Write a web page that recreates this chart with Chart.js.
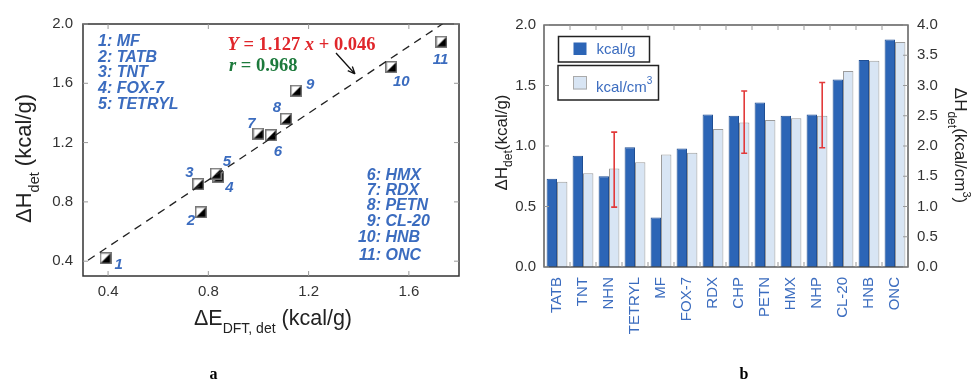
<!DOCTYPE html>
<html>
<head>
<meta charset="utf-8">
<script src="https://cdn.jsdelivr.net/npm/chart.js@4.4.0/dist/chart.umd.min.js"></script>
<style>
  html, body { margin: 0; padding: 0; background: #fff; }
  #wrap { position: relative; width: 972px; height: 381px; overflow: hidden; }
  .panel { position: absolute; top: 0; }
  #boxA { left: 0; }
  #boxB { left: 486px; }
</style>
</head>
<body>
<div id="wrap">
  <div class="panel" id="boxA"><canvas id="chartA" width="480" height="381"></canvas></div>
  <div class="panel" id="boxB"><canvas id="chartB" width="486" height="381"></canvas></div>
</div>
<script>
// ---- panel a : dH(det) vs dE(DFT) ----
const compoundNames = ['MF', 'TATB', 'TNT', 'FOX-7', 'TETRYL', 'HMX', 'RDX', 'PETN', 'CL-20', 'HNB', 'ONC'];
const deltaEdft = [0.39, 0.77, 0.76, 0.84, 0.83, 1.05, 1.00, 1.11, 1.15, 1.53, 1.73];
const deltaHdet = [0.42, 0.73, 0.92, 0.97, 0.99, 1.25, 1.26, 1.36, 1.55, 1.71, 1.88];
const fitSlope = 1.127;
const fitIntercept = 0.046;
const fitR = 0.968;
const fitRange = [0.32, 1.735];
const xTicksA = [0.4, 0.8, 1.2, 1.6];
const yTicksA = [0.4, 0.8, 1.2, 1.6, 2.0];

// ---- panel b : bars per compound ----
const categories = ['TATB', 'TNT', 'NHN', 'TETRYL', 'MF', 'FOX-7', 'RDX', 'CHP', 'PETN', 'HMX', 'NHP', 'CL-20', 'HNB', 'ONC'];
const kcalPerG = [0.73, 0.92, 0.75, 0.99, 0.41, 0.98, 1.26, 1.25, 1.36, 1.25, 1.26, 1.55, 1.71, 1.88];
const kcalPerCm3 = [1.41, 1.55, 1.63, 1.73, 1.86, 1.89, 2.28, 2.39, 2.43, 2.46, 2.50, 3.24, 3.41, 3.72];
const errLow = [null, null, 0.99, null, null, null, null, 1.88, null, null, 1.97, null, null, null];
const errHigh = [null, null, 2.23, null, null, null, null, 2.91, null, null, 3.05, null, null, null];
const yTicksLeftB = [0, 0.5, 1.0, 1.5, 2.0];
const yTicksRightB = [0, 0.5, 1.0, 1.5, 2.0, 2.5, 3.0, 3.5, 4.0];

// layout / style
const SANS = '"Liberation Sans", Arial, sans-serif';
const SERIF = '"Liberation Serif", "Times New Roman", serif';
const BLUE_TXT = '#3b6cbf';
const labelOffsets = [[13, 7], [-10, 9], [-9, -11], [11, 11], [11, -12], [7, 17], [-7, -10], [-9, -11], [14, -6], [10, 15], [-1, 18]];

// texte avec indices / exposants
function drawRich(ctx, parts, x, y, align) {
    let total = 0;
    parts.forEach(p => { ctx.font = p.font; p.w = ctx.measureText(p.t).width; total += p.w; });
    let cx = align === 'center' ? x - total / 2 : x;
    ctx.textAlign = 'left';
    ctx.textBaseline = 'alphabetic';
    parts.forEach(p => {
        ctx.font = p.font;
        if (p.color) ctx.fillStyle = p.color;
        ctx.fillText(p.t, cx, y + (p.dy || 0));
        cx += p.w;
    });
}

function makeMarker() {
    const c = document.createElement('canvas');
    c.width = 12; c.height = 12;
    const g = c.getContext('2d');
    g.fillStyle = '#fff';
    g.fillRect(0, 0, 12, 12);
    g.fillStyle = '#000';
    g.beginPath();
    g.moveTo(11, 1); g.lineTo(11, 11); g.lineTo(1, 11); g.closePath();
    g.fill();
    g.strokeStyle = '#777';
    g.lineWidth = 1.5;
    g.strokeRect(0.75, 0.75, 10.5, 10.5);
    return c;
}

const overlayA = {
    id: 'overlayA',
    afterDatasetsDraw(chart) {
        const { ctx, chartArea: ca, scales: { x, y } } = chart;
        ctx.save();
        // cadre + graduations internes
        ctx.strokeStyle = '#333';
        ctx.lineWidth = 1.5;
        ctx.strokeRect(ca.left, ca.top, ca.right - ca.left, ca.bottom - ca.top);
        ctx.strokeStyle = '#999';
        ctx.lineWidth = 1;
        ctx.beginPath();
        xTicksA.forEach(v => {
            const px = x.getPixelForValue(v);
            ctx.moveTo(px, ca.bottom); ctx.lineTo(px, ca.bottom - 5);
            ctx.moveTo(px, ca.top); ctx.lineTo(px, ca.top + 5);
        });
        yTicksA.forEach(v => {
            const py = y.getPixelForValue(v);
            ctx.moveTo(ca.left, py); ctx.lineTo(ca.left + 5, py);
            ctx.moveTo(ca.right, py); ctx.lineTo(ca.right - 5, py);
        });
        ctx.stroke();

        // numéros des points
        ctx.fillStyle = BLUE_TXT;
        ctx.font = 'italic bold 15px ' + SANS;
        ctx.textAlign = 'center';
        ctx.textBaseline = 'middle';
        chart.getDatasetMeta(1).data.forEach((pt, i) => {
            ctx.fillText(String(i + 1), pt.x + labelOffsets[i][0], pt.y + labelOffsets[i][1]);
        });

        // listes des composés
        ctx.font = 'italic bold 16px ' + SANS;
        ctx.textBaseline = 'alphabetic';
        ctx.textAlign = 'left';
        const leftBase = [46, 61.5, 77, 92.5, 108.5];
        for (let i = 0; i < 5; i++) {
            ctx.fillText((i + 1) + ': ' + compoundNames[i], 98, leftBase[i]);
        }
        const rightBase = [179.5, 194.5, 210, 226, 241.5, 260];
        for (let i = 5; i < 11; i++) {
            ctx.textAlign = 'right';
            ctx.fillText((i + 1) + ':', 381, rightBase[i - 5]);
            ctx.textAlign = 'left';
            ctx.fillText(' ' + compoundNames[i], 381, rightBase[i - 5]);
        }

        // équation
        const bi = 'italic bold 18.5px ' + SERIF;
        const b = 'bold 18.5px ' + SERIF;
        drawRich(ctx, [
            { t: 'Y', font: bi, color: '#e0262b' },
            { t: ' = ' + fitSlope.toFixed(3) + ' ', font: b },
            { t: 'x', font: bi },
            { t: ' + ' + fitIntercept.toFixed(3), font: b }
        ], 227.5, 49.5, 'left');
        drawRich(ctx, [
            { t: 'r', font: bi, color: '#1d7a3c' },
            { t: ' = ' + fitR.toFixed(3), font: b }
        ], 229, 70.5, 'left');

        // flèche
        const ax0 = 336, ay0 = 53, ax1 = 355, ay1 = 74;
        const ang = Math.atan2(ay1 - ay0, ax1 - ax0);
        ctx.strokeStyle = '#111';
        ctx.lineWidth = 1.3;
        ctx.beginPath();
        ctx.moveTo(ax0, ay0); ctx.lineTo(ax1, ay1);
        ctx.moveTo(ax1, ay1); ctx.lineTo(ax1 - 8 * Math.cos(ang - 0.4), ay1 - 8 * Math.sin(ang - 0.4));
        ctx.moveTo(ax1, ay1); ctx.lineTo(ax1 - 8 * Math.cos(ang + 0.4), ay1 - 8 * Math.sin(ang + 0.4));
        ctx.stroke();

        // titres des axes
        ctx.fillStyle = '#222';
        drawRich(ctx, [
            { t: '\u0394E', font: '21.5px ' + SANS },
            { t: 'DFT, det', font: '14px ' + SANS, dy: 8 },
            { t: ' (kcal/g)', font: '21.5px ' + SANS }
        ], 273, 325, 'center');
        ctx.save();
        ctx.translate(31, 158.5);
        ctx.rotate(-Math.PI / 2);
        drawRich(ctx, [
            { t: '\u0394H', font: '22px ' + SANS },
            { t: 'det', font: '14.5px ' + SANS, dy: 8 },
            { t: ' (kcal/g)', font: '22px ' + SANS }
        ], 0, 0, 'center');
        ctx.restore();

        ctx.fillStyle = '#000';
        ctx.font = 'bold 16px ' + SERIF;
        ctx.textAlign = 'center';
        ctx.fillText('a', 213.5, 379);
        ctx.restore();
    }
};

const overlayB = {
    id: 'overlayB',
    afterDatasetsDraw(chart) {
        const { ctx, chartArea: ca, scales: { x, y, y2 } } = chart;
        ctx.save();
        ctx.strokeStyle = '#444';
        ctx.lineWidth = 1.3;
        ctx.strokeRect(ca.left, ca.top, ca.right - ca.left, ca.bottom - ca.top);

        ctx.strokeStyle = '#999';
        ctx.lineWidth = 1;
        ctx.beginPath();
        yTicksLeftB.forEach(v => {
            const py = y.getPixelForValue(v);
            ctx.moveTo(ca.left, py); ctx.lineTo(ca.left + 5, py);
        });
        yTicksRightB.forEach(v => {
            const py = y2.getPixelForValue(v);
            ctx.moveTo(ca.right, py); ctx.lineTo(ca.right - 5, py);
        });
        for (let k = 1; k < categories.length; k++) {
            const px = (x.getPixelForValue(k - 1) + x.getPixelForValue(k)) / 2;
            ctx.moveTo(px, ca.top); ctx.lineTo(px, ca.top + 5);
            ctx.moveTo(px, ca.bottom); ctx.lineTo(px, ca.bottom - 5);
        }
        ctx.stroke();

        // barres d'erreur
        const meta = chart.getDatasetMeta(1);
        ctx.strokeStyle = '#e23a3a';
        ctx.lineWidth = 1.6;
        ctx.beginPath();
        errLow.forEach((lo, i) => {
            if (lo === null) return;
            const px = meta.data[i].x;
            const p1 = y2.getPixelForValue(lo);
            const p2 = y2.getPixelForValue(errHigh[i]);
            ctx.moveTo(px, p1); ctx.lineTo(px, p2);
            ctx.moveTo(px - 3, p1); ctx.lineTo(px + 3, p1);
            ctx.moveTo(px - 3, p2); ctx.lineTo(px + 3, p2);
        });
        ctx.stroke();

        // légende
        ctx.strokeStyle = '#222';
        ctx.lineWidth = 1.5;
        ctx.strokeRect(72.5, 36.5, 91, 25.5);
        ctx.strokeRect(72, 65.5, 100.5, 34.5);
        ctx.fillStyle = '#2c65b6';
        ctx.fillRect(87.5, 42.5, 13, 12.5);
        ctx.fillStyle = '#d8e5f4';
        ctx.fillRect(87, 76, 14, 13.5);
        ctx.strokeStyle = '#aaa';
        ctx.lineWidth = 1;
        ctx.strokeRect(87.5, 76.5, 13, 12.5);
        ctx.fillStyle = BLUE_TXT;
        ctx.font = '15px ' + SANS;
        ctx.textAlign = 'left';
        ctx.textBaseline = 'middle';
        ctx.fillText('kcal/g', 110.5, 50);
        drawRich(ctx, [
            { t: 'kcal/cm', font: '15px ' + SANS },
            { t: '3', font: '10px ' + SANS, dy: -8 }
        ], 110, 92, 'left');

        // titres des axes
        ctx.fillStyle = '#222';
        ctx.save();
        ctx.translate(21, 142.5);
        ctx.rotate(-Math.PI / 2);
        drawRich(ctx, [
            { t: '\u0394H', font: '17px ' + SANS },
            { t: 'det', font: '12px ' + SANS, dy: 5 },
            { t: '(kcal/g)', font: '17px ' + SANS }
        ], 0, 0, 'center');
        ctx.restore();
        ctx.save();
        ctx.translate(469, 145.5);
        ctx.rotate(Math.PI / 2);
        drawRich(ctx, [
            { t: '\u0394H', font: '17px ' + SANS },
            { t: 'det', font: '12px ' + SANS, dy: 7 },
            { t: '(kcal/cm', font: '17px ' + SANS },
            { t: '3', font: '11px ' + SANS, dy: -8 },
            { t: ')', font: '17px ' + SANS }
        ], 0, 0, 'center');
        ctx.restore();

        ctx.fillStyle = '#000';
        ctx.font = 'bold 16px ' + SERIF;
        ctx.textAlign = 'center';
        ctx.textBaseline = 'alphabetic';
        ctx.fillText('b', 258, 379);
        ctx.restore();
    }
};

const tickFont = { family: SANS, size: 15 };
const hiddenGrid = { display: false, drawTicks: false };

new Chart(document.getElementById('chartA'), {
    type: 'scatter',
    data: {
        datasets: [
            {
                type: 'line',
                data: fitRange.map(v => ({ x: v, y: fitSlope * v + fitIntercept })),
                borderColor: '#222',
                borderWidth: 1.3,
                borderDash: [8, 6],
                pointRadius: 0,
                fill: false
            },
            {
                data: deltaEdft.map((v, i) => ({ x: v, y: deltaHdet[i] })),
                pointStyle: makeMarker(),
                pointRadius: 6
            }
        ]
    },
    options: {
        responsive: false,
        animation: false,
        layout: { padding: { top: 24, right: 21, left: 0, bottom: 0 } },
        plugins: { legend: { display: false }, tooltip: { enabled: false } },
        scales: {
            x: {
                type: 'linear', min: 0.3, max: 1.8,
                afterBuildTicks: s => { s.ticks = xTicksA.map(v => ({ value: v })); },
                afterFit: s => { s.height = 105; },
                ticks: { font: tickFont, color: '#333', padding: 7, callback: v => v.toFixed(1) },
                grid: hiddenGrid,
                border: { display: false }
            },
            y: {
                type: 'linear', min: 0.3, max: 2.0,
                afterBuildTicks: s => { s.ticks = yTicksA.map(v => ({ value: v })); },
                afterFit: s => { s.width = 83; },
                ticks: { font: tickFont, color: '#333', padding: 10, callback: v => v.toFixed(1) },
                grid: hiddenGrid,
                border: { display: false }
            }
        }
    },
    plugins: [overlayA]
});

new Chart(document.getElementById('chartB'), {
    type: 'bar',
    data: {
        labels: categories,
        datasets: [
            {
                label: 'kcal/g',
                data: kcalPerG,
                yAxisID: 'y',
                backgroundColor: '#2c65b6',
                borderColor: '#1f4e93',
                borderWidth: 1,
                categoryPercentage: 0.8,
                barPercentage: 1.0
            },
            {
                label: 'kcal/cm3',
                data: kcalPerCm3,
                yAxisID: 'y2',
                backgroundColor: '#d8e5f4',
                borderColor: '#9c9c9c',
                borderWidth: 1,
                categoryPercentage: 0.8,
                barPercentage: 1.0
            }
        ]
    },
    options: {
        responsive: false,
        animation: false,
        layout: { padding: { top: 25, right: 0, left: 0, bottom: 0 } },
        plugins: { legend: { display: false }, tooltip: { enabled: false } },
        scales: {
            x: {
                afterFit: s => { s.height = 114; },
                ticks: { font: tickFont, color: BLUE_TXT, padding: 10, minRotation: 90, maxRotation: 90, autoSkip: false },
                grid: hiddenGrid,
                border: { display: false }
            },
            y: {
                position: 'left', min: 0, max: 2,
                afterBuildTicks: s => { s.ticks = yTicksLeftB.map(v => ({ value: v })); },
                afterFit: s => { s.width = 58; },
                ticks: { font: tickFont, color: '#333', padding: 8, callback: v => v.toFixed(1) },
                grid: hiddenGrid,
                border: { display: false }
            },
            y2: {
                position: 'right', min: 0, max: 4,
                afterBuildTicks: s => { s.ticks = yTicksRightB.map(v => ({ value: v })); },
                afterFit: s => { s.width = 64; },
                ticks: { font: tickFont, color: '#333', padding: 9, callback: v => v.toFixed(1) },
                grid: hiddenGrid,
                border: { display: false }
            }
        }
    },
    plugins: [overlayB]
});
</script>
</body>
</html>
